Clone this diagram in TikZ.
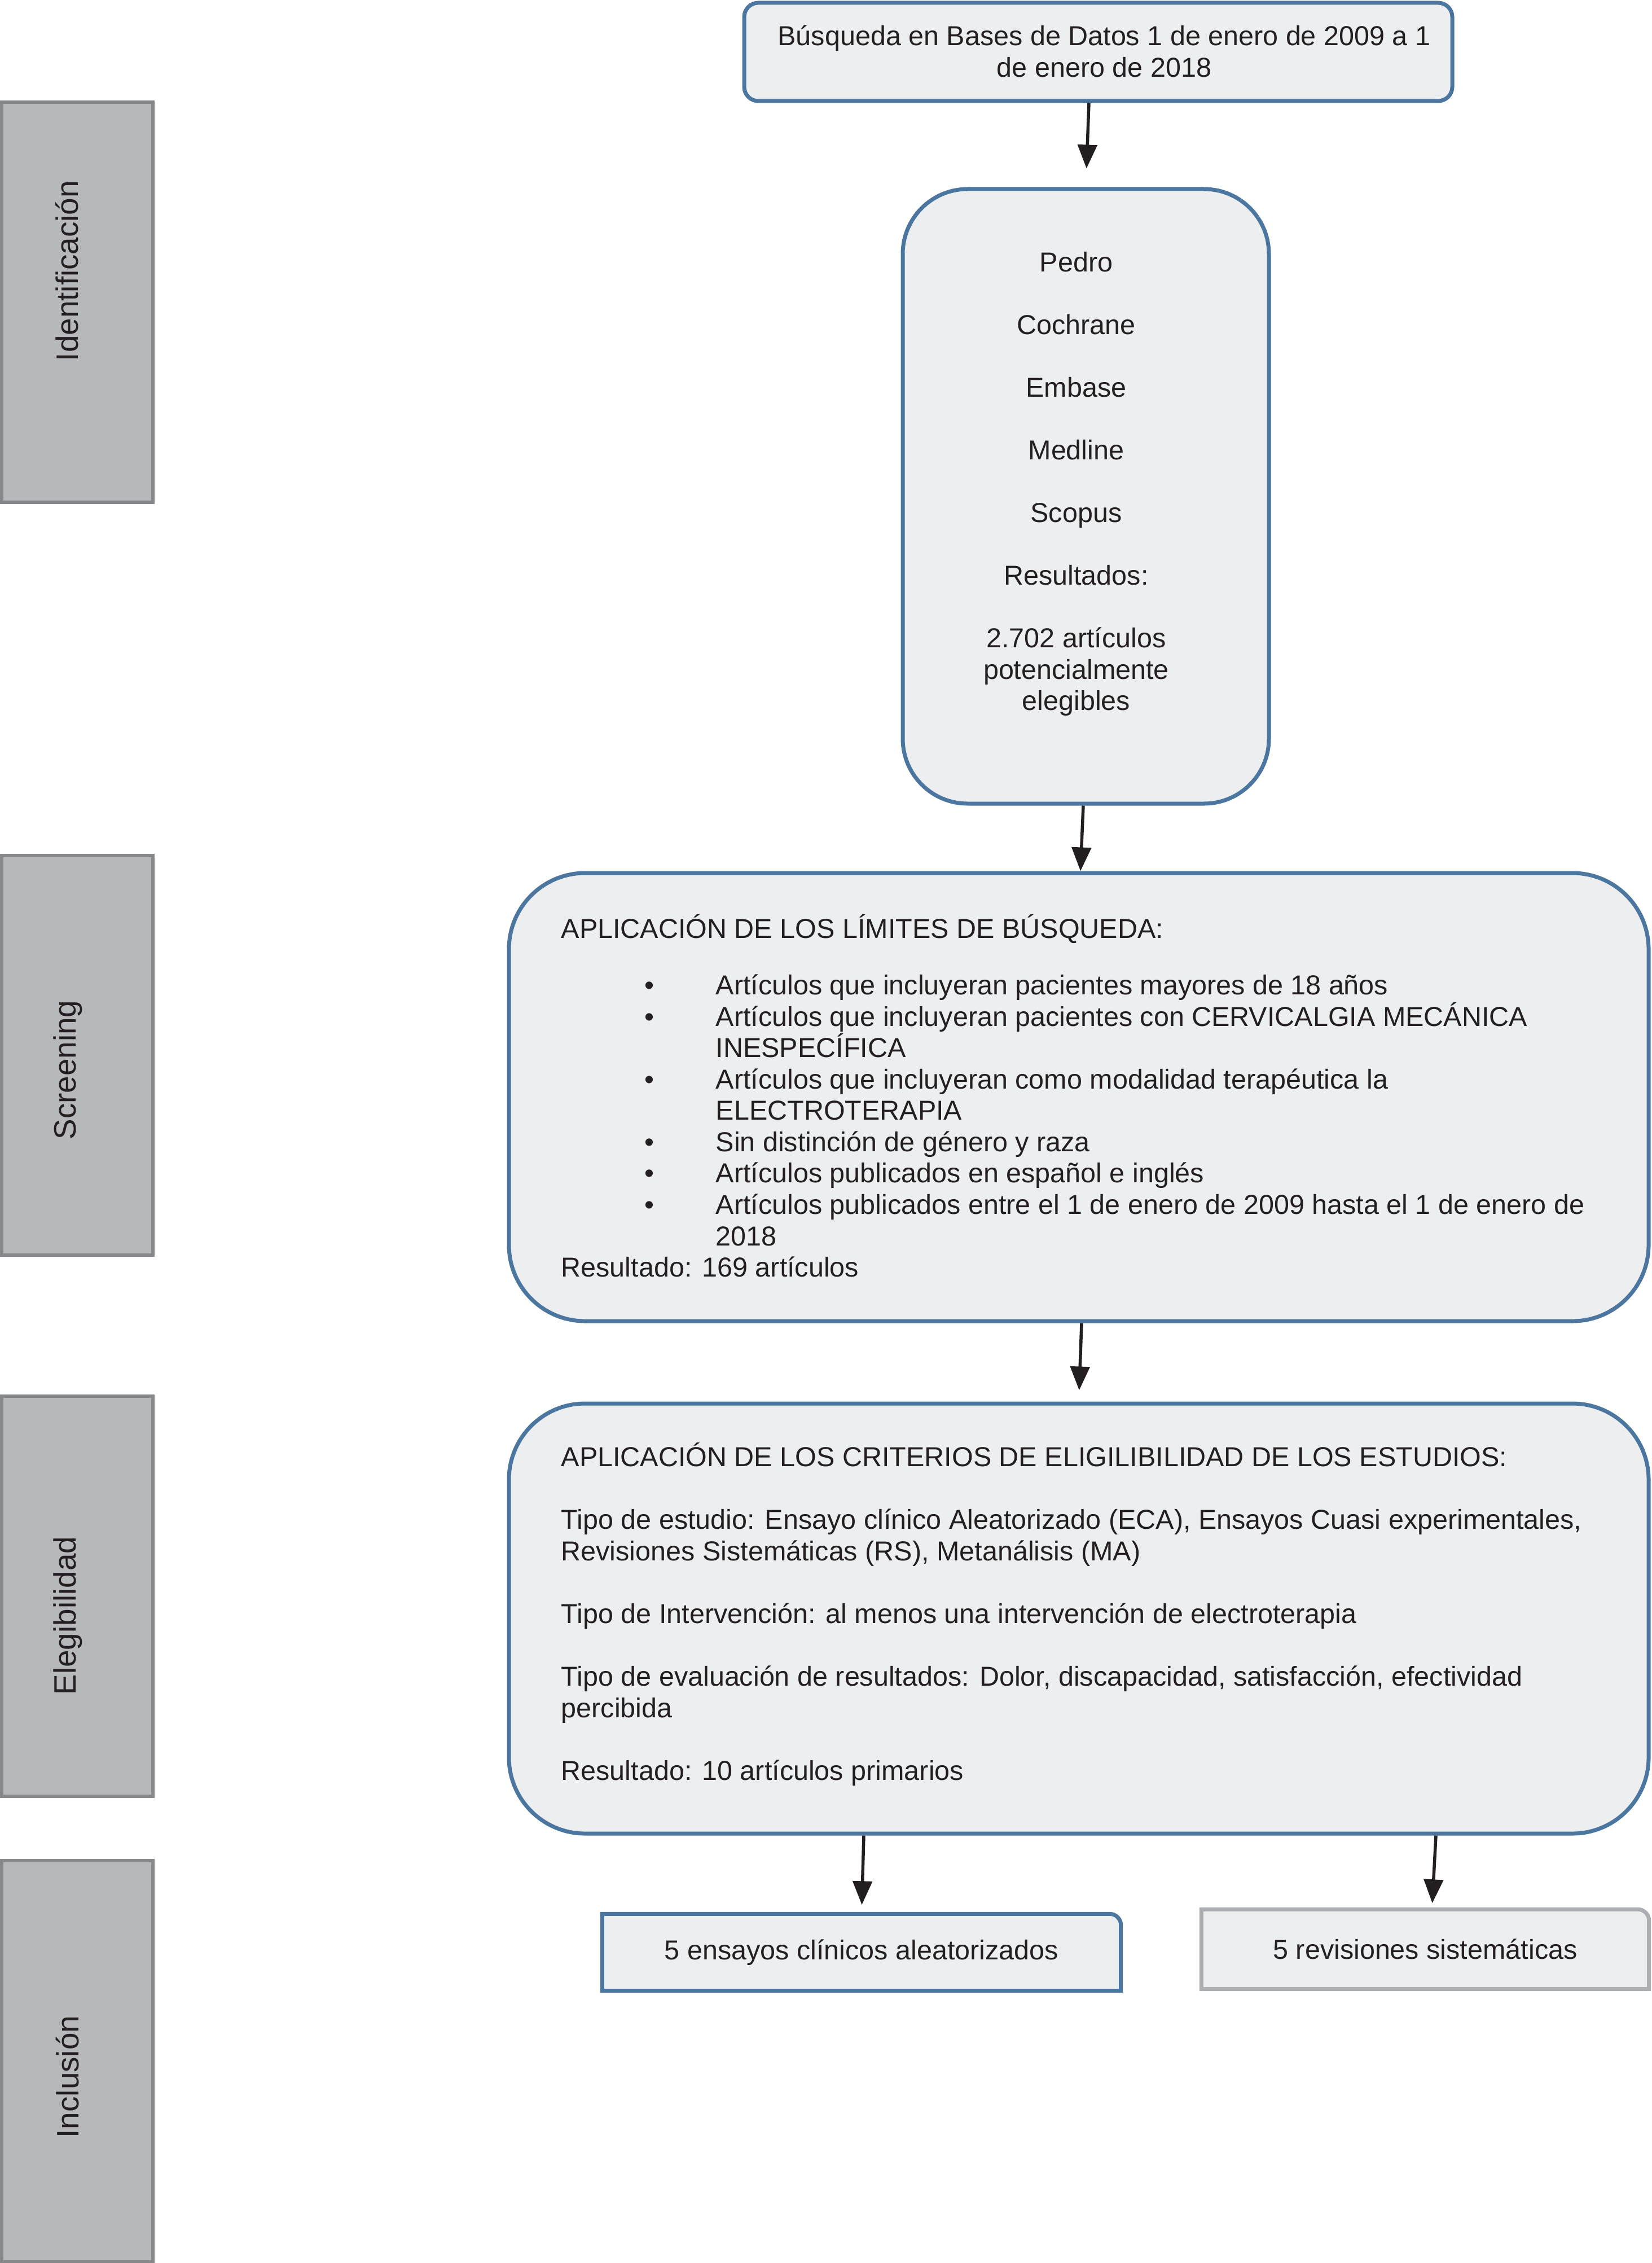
\documentclass[tikz,border=0pt]{standalone}
\usepackage{fontspec}
\setmainfont{Liberation Sans}
\usetikzlibrary{arrows.meta,positioning,backgrounds}
\definecolor{boxblue}{RGB}{74,118,160}
\definecolor{boxfill}{RGB}{236,238,240}
\definecolor{phasefill}{RGB}{183,184,188}
\definecolor{phaseline}{RGB}{134,136,139}
\definecolor{boxgray}{RGB}{172,174,177}
\definecolor{inkblack}{RGB}{35,31,32}
\newcommand{\bul}{\makebox[2.74cm][l]{\hspace{1.48cm}\textbullet}}
\newcommand{\cont}{\hspace*{2.74cm}}

\begin{document}
\begin{tikzpicture}[
    txt/.style={font=\fontsize{13.8pt}{15.8pt}\selectfont, text=inkblack},
    flowbox/.style={txt, draw=boxblue, line width=0.07cm, fill=boxfill, align=center, inner sep=0},
    phase/.style={draw=phaseline, line width=0.06cm, fill=phasefill, inner sep=0},
    phaselabel/.style={font=\fontsize{15.6pt}{18pt}\selectfont, text=inkblack, rotate=90, inner sep=0},
    flow/.style={draw=inkblack, line width=0.055cm, -{Triangle[length=0.42cm,width=0.34cm]}}]
    \useasboundingbox (0,0) rectangle (29.27,-40.10);

    \node[phase, minimum width=2.68cm, minimum height=7.09cm] (ident) at (1.37,-5.355) {};
    \node[phaselabel] (identlbl) at (1.19,-4.80) {Identificación};
    \node[phase, minimum width=2.68cm, minimum height=7.08cm] (screen) at (1.37,-18.70) {};
    \node[phaselabel] (screenlbl) at (1.20,-18.96) {Screening};
    \node[phase, minimum width=2.68cm, minimum height=7.09cm] (eleg) at (1.37,-28.285) {};
    \node[phaselabel] (eleglbl) at (1.20,-28.63) {Elegibilidad};
    \node[phase, minimum width=2.68cm, minimum height=7.11cm] (incl) at (1.37,-36.525) {};
    \node[phaselabel] (incllbl) at (1.20,-36.80) {Inclusión};

    \node[flowbox, rounded corners=0.25cm, minimum width=12.55cm, minimum height=1.74cm] (search) at (19.465,-0.92) {};
    \node[txt, align=center, inner sep=0] (searchtxt) at (19.57,-0.91)
        {Búsqueda en Bases de Datos 1 de enero de 2009 a 1\\de enero de 2018};
    \node[flowbox, rounded corners=1.15cm, minimum width=6.49cm, minimum height=10.89cm] (bases) at (19.245,-8.795) {};
    \node[txt, align=center, inner sep=0] (basestxt) at ([xshift=-0.17cm,yshift=0.22cm]bases.center)
        {Pedro\\[15.8pt]Cochrane\\[15.8pt]Embase\\[15.8pt]Medline\\[15.8pt]Scopus\\[15.8pt]Resultados:\\[15.8pt]2.702 artículos\\potencialmente\\elegibles};
    \draw[flow, shorten >=0.33cm] ([xshift=-0.165cm]search.south) -- (bases.north);

    \node[flowbox, rounded corners=1.35cm, minimum width=20.2cm, minimum height=7.94cm] (limits) at (19.12,-19.44) {};
    \node[txt, align=left, anchor=north west, inner sep=0] (limitstxt) at (9.94,-16.20)
        {APLICACIÓN DE LOS LÍMITES DE BÚSQUEDA:\\[0.445cm]
         \bul Artículos que incluyeran pacientes mayores de 18 años\\
         \bul Artículos que incluyeran pacientes con CERVICALGIA MECÁNICA\\
         \cont INESPECÍFICA\\
         \bul Artículos que incluyeran como modalidad terapéutica la\\
         \cont ELECTROTERAPIA\\
         \bul Sin distinción de género y raza\\
         \bul Artículos publicados en español e inglés\\
         \bul Artículos publicados entre el 1 de enero de 2009 hasta el 1 de enero de\\
         \cont 2018\\
         Resultado: 169 artículos};
    \draw[flow] ([xshift=-0.045cm]bases.south) -- ([xshift=0.03cm]limits.north);

    \node[flowbox, rounded corners=1.35cm, minimum width=20.2cm, minimum height=7.62cm] (elig) at (19.12,-28.68) {};
    \node[txt, align=left, anchor=north west, inner sep=0] (eligtxt) at (9.94,-25.56)
        {APLICACIÓN DE LOS CRITERIOS DE ELIGILIBILIDAD DE LOS ESTUDIOS:\\[15.8pt]
         Tipo de estudio: Ensayo clínico Aleatorizado (ECA), Ensayos Cuasi experimentales,\\
         Revisiones Sistemáticas (RS), Metanálisis (MA)\\[15.8pt]
         Tipo de Intervención: al menos una intervención de electroterapia\\[15.8pt]
         Tipo de evaluación de resultados: Dolor, discapacidad, satisfacción, efectividad\\
         percibida\\[15.8pt]
         Resultado: 10 artículos primarios};
    \draw[flow, shorten >=0.2cm] ([xshift=0.05cm]limits.south) -- (elig.north);

    \node[txt, inner sep=0, minimum width=9.18cm, minimum height=1.35cm] (rct) at (15.27,-34.595) {5 ensayos clínicos aleatorizados};
    \node[txt, inner sep=0, minimum width=7.92cm, minimum height=1.40cm] (rev) at (25.26,-34.54) {5 revisiones sistemáticas};
    \begin{pgfonlayer}{background}
        \draw[draw=boxblue, line width=0.07cm, fill=boxfill] (rct.south west) -- (rct.north west)
            -- ([xshift=-0.2cm]rct.north east) arc[start angle=90, end angle=0, radius=0.2cm] -- (rct.south east) -- cycle;
        \draw[draw=boxgray, line width=0.07cm, fill=boxfill] (rev.south west) -- (rev.north west)
            -- ([xshift=-0.2cm]rev.north east) arc[start angle=90, end angle=0, radius=0.2cm] -- (rev.south east) -- cycle;
    \end{pgfonlayer}
    \draw[flow, shorten >=0.16cm] ([xshift=-3.81cm]elig.south) -- (rct.north);
    \draw[flow, shorten >=0.11cm] ([xshift=6.33cm]elig.south) -- ([xshift=0.12cm]rev.north);
\end{tikzpicture}
\end{document}
